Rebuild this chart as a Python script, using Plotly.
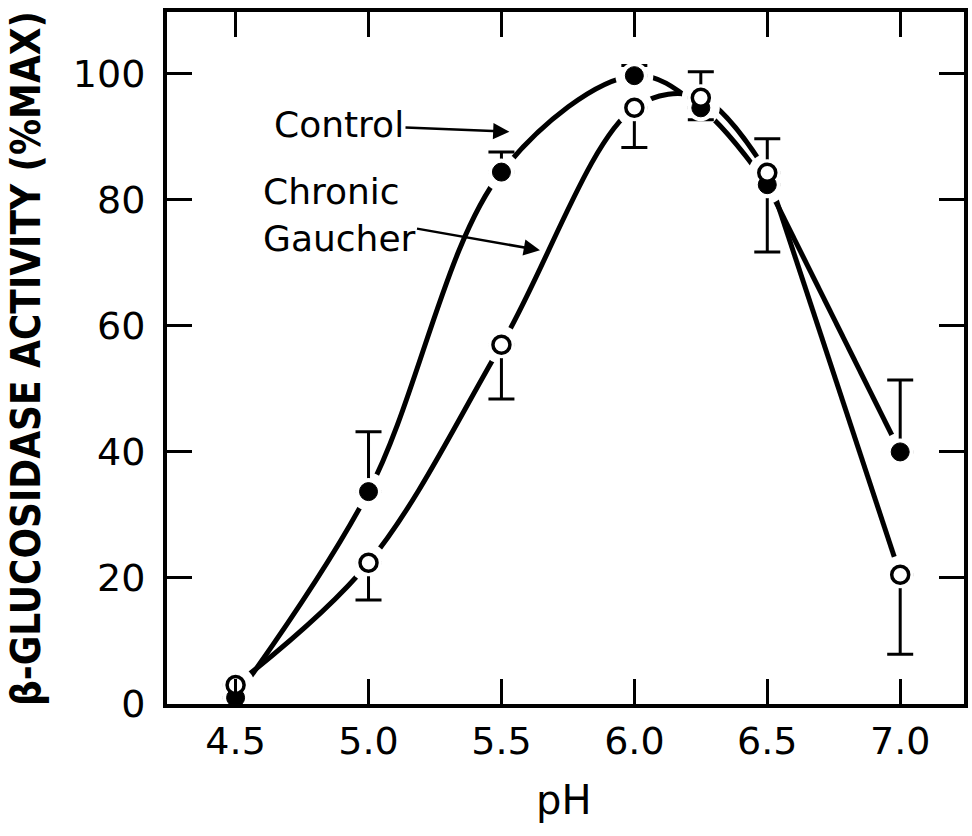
import plotly.graph_objects as go

# ---- data ----
ph = [4.5, 5.0, 5.5, 6.0, 6.25, 6.5, 7.0]
control = [1.0, 33.7, 84.4, 99.7, 94.6, 82.4, 40.0]
control_err_up = [0, 9.5, 3.2, 1.6, 0, 0, 11.4]
control_err_down = [0, 0, 0, 0, 1.9, 10.7, 0]
gaucher = [3.0, 22.4, 57.0, 94.6, 96.2, 84.3, 20.5]
gaucher_err_up = [0, 0, 0, 0, 4.1, 5.4, 0]
gaucher_err_down = [0, 5.9, 8.6, 6.3, 0, 0, 12.6]

x_tickvals = [4.5, 5.0, 5.5, 6.0, 6.5, 7.0]
x_ticktext = ["4.5", "5.0", "5.5", "6.0", "6.5", "7.0"]
y_tickvals = [0, 20, 40, 60, 80, 100]
y_ticktext = ["0", "20", "40", "60", "80", "100"]

BLACK = "black"
LW = 5
FONT = "DejaVu Sans"

fig = go.Figure()

# curves: smooth part (4.5 - 6.5) and straight segment (6.5 - 7.0)
for ys in (control, gaucher):
    fig.add_trace(go.Scatter(x=ph[:6], y=ys[:6], mode="lines",
                             line=dict(color=BLACK, width=LW, shape="spline", smoothing=1.0),
                             hoverinfo="skip", showlegend=False))
    fig.add_trace(go.Scatter(x=ph[5:], y=ys[5:], mode="lines",
                             line=dict(color=BLACK, width=LW),
                             hoverinfo="skip", showlegend=False))

# white masks around points (gap in curves)
for ys in (control, gaucher):
    fig.add_trace(go.Scatter(x=ph, y=ys, mode="markers",
                             marker=dict(size=38, color="white", line=dict(width=0)),
                             hoverinfo="skip", showlegend=False))

# error bars (drawn under a smaller white disc so the bar starts just off the point)
for ys, up, dn in ((control, control_err_up, control_err_down),
                   (gaucher, gaucher_err_up, gaucher_err_down)):
    fig.add_trace(go.Scatter(x=ph, y=ys, mode="markers",
                             marker=dict(size=27, color="white", line=dict(width=0)),
                             error_y=dict(type="data", symmetric=False, array=up, arrayminus=dn,
                                          color=BLACK, thickness=3, width=13),
                             hoverinfo="skip", showlegend=False))

# markers
fig.add_trace(go.Scatter(x=ph, y=control, mode="markers", name="Control",
                         marker=dict(size=18, color=BLACK, line=dict(color=BLACK, width=1)),
                         showlegend=False))
fig.add_trace(go.Scatter(x=ph, y=gaucher, mode="markers", name="Chronic Gaucher",
                         marker=dict(size=17, color="white", line=dict(color=BLACK, width=3.5)),
                         showlegend=False))

axis_common = dict(showline=True, linewidth=4, linecolor=BLACK, mirror="ticks",
                   ticks="inside", ticklen=25, tickwidth=3, tickcolor=BLACK,
                   showgrid=False, zeroline=False,
                   tickfont=dict(family=FONT, size=38, color=BLACK))

fig.update_xaxes(range=[4.242, 7.24], tickvals=x_tickvals, ticktext=x_ticktext, **axis_common)
fig.update_yaxes(range=[0, 109.8], tickvals=y_tickvals, ticktext=y_ticktext,
                 ticklabelstandoff=10, **axis_common)

label_font = dict(family=FONT, size=36, color=BLACK)
arrow_style = dict(showarrow=True, arrowhead=2, arrowsize=1.3, arrowwidth=2.5, arrowcolor=BLACK)
annotations = [
    dict(text="Control", x=5.53, y=90.8, xref="x", yref="y",
         ax=4.889, ay=91.9, axref="x", ayref="y", font=label_font, **arrow_style),
    dict(text="Chronic<br>Gaucher", x=5.645, y=72.0, xref="x", yref="y", align="left",
         ax=4.889, ay=77.6, axref="x", ayref="y", font=label_font, **arrow_style),
    dict(text="β-GLUCOSIDASE ACTIVITY (%MAX)", textangle=-90,
         x=-0.177, y=0.5, xref="paper", yref="paper", xanchor="center", yanchor="middle",
         showarrow=False,
         font=dict(family="Liberation Sans Narrow, DejaVu Sans Condensed, Arial Narrow", size=40,
                   color=BLACK, weight="bold")),
    dict(text="pH", x=0.497, y=-0.139, xref="paper", yref="paper",
         xanchor="center", yanchor="middle", showarrow=False,
         font=dict(family=FONT, size=40, color=BLACK)),
]

fig.update_layout(width=972, height=836,
                  margin=dict(l=167, r=4, t=12, b=132),
                  paper_bgcolor="white", plot_bgcolor="white",
                  annotations=annotations, showlegend=False)

fig.write_html("out.html")
